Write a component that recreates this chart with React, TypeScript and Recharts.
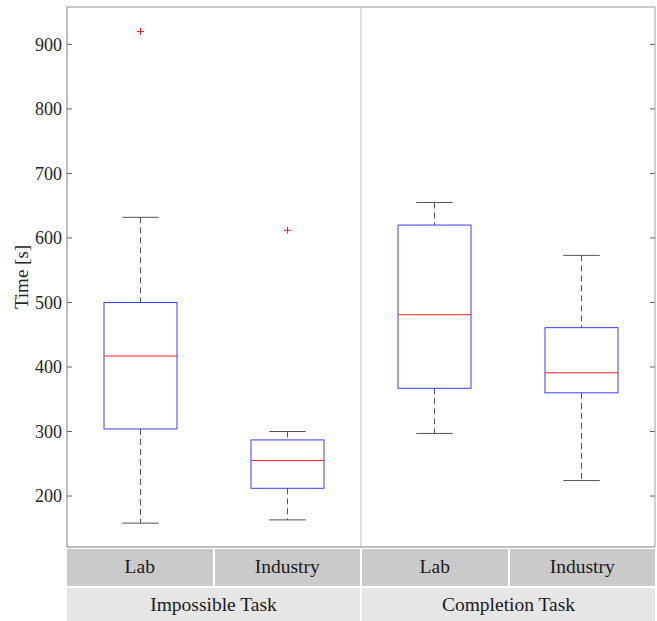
import * as R from 'recharts'
import { ComposedChart, Bar, Scatter, XAxis, YAxis } from 'recharts'

const categories = ['Impossible-Lab', 'Impossible-Industry', 'Completion-Lab', 'Completion-Industry']
const subLabels = ['Lab', 'Industry', 'Lab', 'Industry']
const groupLabels = ['Impossible Task', 'Completion Task']

const whiskerLow = [158, 163, 297, 224]
const q1 = [304, 212, 367, 360]
const median = [417, 255, 481, 391]
const q3 = [500, 287, 620, 461]
const whiskerHigh = [632, 300, 655, 573]
const outliers = [920, 612, null, null]

const yTicks = [200, 300, 400, 500, 600, 700, 800, 900]
const yDomain = [121, 958]

const FONT = '"Liberation Serif", "Times New Roman", Times, "DejaVu Serif", serif'

const data = categories.map((cat, i) => ({
  cat,
  box: [q1[i], q3[i]],
  q1: q1[i],
  q3: q3[i],
  med: median[i],
  lo: whiskerLow[i],
  hi: whiskerHigh[i],
  outlier: outliers[i],
}))

// box + whiskers, pixel scale taken from the bar that recharts gives us (q1..q3)
function BoxShape(props: any) {
  const { x, y, width, height, payload } = props
  const top = Math.min(y, y + height)
  const k = Math.abs(height) / (payload.q3 - payload.q1)
  const py = (v: number) => top + (payload.q3 - v) * k
  const cx = x + width / 2
  const cap = width / 4
  return (
    <g>
      <line x1={cx} x2={cx} y1={py(payload.hi)} y2={py(payload.q3)} stroke="#555" strokeDasharray="6 4" />
      <line x1={cx} x2={cx} y1={py(payload.q1)} y2={py(payload.lo)} stroke="#555" strokeDasharray="6 4" />
      <line x1={cx - cap} x2={cx + cap} y1={py(payload.hi)} y2={py(payload.hi)} stroke="#555" />
      <line x1={cx - cap} x2={cx + cap} y1={py(payload.lo)} y2={py(payload.lo)} stroke="#555" />
      <rect x={x} y={top} width={width} height={Math.abs(height)} fill="none" stroke="#3c3cff" />
      <line x1={x} x2={x + width} y1={py(payload.med)} y2={py(payload.med)} stroke="#ff2020" />
    </g>
  )
}

function PlusShape(props: any) {
  const { cx, cy, payload } = props
  if (payload == null || payload.outlier == null) return <g />
  const r = 3.5
  return (
    <g stroke="#ff2020" strokeWidth={1}>
      <line x1={cx - r} x2={cx + r} y1={cy} y2={cy} />
      <line x1={cx} x2={cx} y1={cy - r} y2={cy + r} />
    </g>
  )
}

function LeftTick({ x, y, payload }: any) {
  return (
    <g>
      <line x1={x + 5} x2={x + 10} y1={y} y2={y} stroke="#666" />
      <text x={x} y={y} dy="0.35em" textAnchor="end" fill="#262626" fontSize={18} style={{ fontFamily: FONT }}>
        {payload.value}
      </text>
    </g>
  )
}

function RightTick({ x, y }: any) {
  return <line x1={x - 5} x2={x} y1={y} y2={y} stroke="#666" />
}

// top edge of the frame and the divider between the two task groups
function PlotFrame() {
  const hook = (R as any).usePlotArea
  const area = hook ? hook() : null
  if (!area) return null
  const mid = area.x + area.width / 2
  return (
    <g>
      <line x1={area.x} x2={area.x + area.width} y1={area.y} y2={area.y} stroke="#909090" />
      <line x1={mid} x2={mid} y1={area.y} y2={area.y + area.height} stroke="#c0c0c0" />
    </g>
  )
}

const cell: React.CSSProperties = {
  display: 'flex',
  alignItems: 'center',
  justifyContent: 'center',
  fontFamily: FONT,
  fontSize: 19.5,
  color: '#1a1a1a',
}

export default function App() {
  return (
    <div style={{ position: 'absolute', left: 0, top: 0, width: 657, height: 621, background: '#fff', fontFamily: FONT }}>
      <ComposedChart
        width={657}
        height={560}
        data={data}
        margin={{ top: 7, right: 1, bottom: 12, left: 0 }}
        style={{ fontFamily: FONT }}
      >
        <XAxis dataKey="cat" tick={false} tickLine={false} height={1} axisLine={{ stroke: '#808080' }} />
        <YAxis
          domain={yDomain}
          ticks={yTicks}
          type="number"
          allowDataOverflow
          width={67}
          tickSize={0}
          tickMargin={5}
          tickLine={false}
          tick={<LeftTick />}
          axisLine={{ stroke: '#808080' }}
          label={{
            value: 'Time [s]',
            angle: -90,
            position: 'insideLeft',
            offset: 21,
            style: { textAnchor: 'middle', fontFamily: FONT, fontSize: 19, fill: '#262626' },
          }}
        />
        <YAxis
          yAxisId="right"
          orientation="right"
          domain={yDomain}
          ticks={yTicks}
          type="number"
          allowDataOverflow
          width={1}
          tickSize={0}
          tickMargin={0}
          tickLine={false}
          tick={<RightTick />}
          axisLine={{ stroke: '#a0a0a0' }}
        />
        <PlotFrame />
        <Bar dataKey="box" barSize={73} shape={<BoxShape />} isAnimationActive={false} />
        <Scatter dataKey="outlier" shape={<PlusShape />} isAnimationActive={false} />
      </ComposedChart>
      <div
        style={{
          position: 'absolute',
          left: 67,
          top: 549,
          width: 588,
          display: 'grid',
          gridTemplateColumns: 'repeat(4, 1fr)',
          gridTemplateRows: '36.5px 34px',
          gap: 2,
        }}
      >
        {subLabels.map((s, i) => (
          <div key={'s' + i} style={{ ...cell, background: '#cacaca' }}>{s}</div>
        ))}
        {groupLabels.map((g, i) => (
          <div key={'g' + i} style={{ ...cell, background: '#e6e6e6', gridColumn: 'span 2' }}>{g}</div>
        ))}
      </div>
    </div>
  )
}
